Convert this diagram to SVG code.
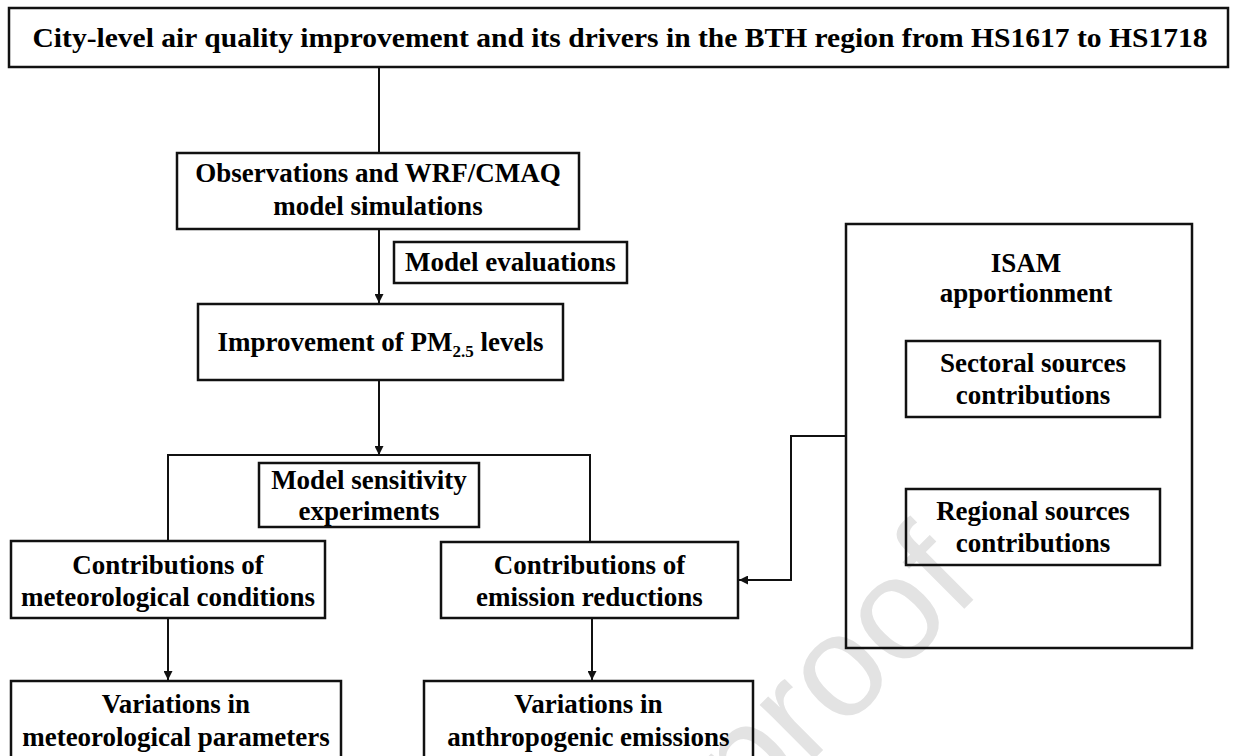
<svg xmlns="http://www.w3.org/2000/svg" width="1238" height="756" viewBox="0 0 1238 756">
  <style>
    .box { fill: none; stroke: #111; stroke-width: 2.5; }
    .t { font-family: "Liberation Serif", "Times New Roman", serif; font-weight: bold; font-size: 27px; fill: #000; text-anchor: middle; }
    .wire { fill: none; stroke: #111; stroke-width: 2; }
    .mark { font-family: "Liberation Sans", Arial, sans-serif; font-size: 145px; fill: #e3e3e3; }
  </style>
  <defs>
    <marker id="arrow" viewBox="0 0 10 10" refX="10" refY="5" markerWidth="9" markerHeight="9" markerUnits="userSpaceOnUse" orient="auto">
      <path d="M0,0 L10,5 L0,10 z" fill="#111"/>
    </marker>
  </defs>
  <rect width="1238" height="756" fill="#fff"/>

  <!-- background watermark -->
  <text class="mark" transform="translate(750,823) rotate(-45)">proof</text>

  <!-- connectors -->
  <g id="connectors">
    <line class="wire" x1="379" y1="67" x2="379" y2="153"/>
    <line class="wire" x1="379" y1="229" x2="379" y2="303" marker-end="url(#arrow)"/>
    <line class="wire" x1="379" y1="380" x2="379" y2="455" marker-end="url(#arrow)"/>
    <polyline class="wire" points="168,541 168,455 590,455 590,542"/>
    <line class="wire" x1="168" y1="618" x2="168" y2="680" marker-end="url(#arrow)"/>
    <line class="wire" x1="592" y1="618" x2="592" y2="680" marker-end="url(#arrow)"/>
    <polyline class="wire" points="846,436 791,436 791,580 739,580" marker-end="url(#arrow)"/>
  </g>

  <g id="title">
    <rect class="box" x="9" y="8" width="1219" height="59"/>
    <text class="t" x="620" y="47" textLength="1175" lengthAdjust="spacingAndGlyphs">City-level air quality improvement and its drivers in the BTH region from HS1617 to HS1718</text>
  </g>

  <g id="observations">
    <rect class="box" x="177" y="153" width="402" height="76"/>
    <text class="t" x="378" y="182">Observations and WRF/CMAQ</text>
    <text class="t" x="378" y="215">model simulations</text>
  </g>

  <g id="model-evaluations">
    <rect class="box" x="394" y="242" width="233" height="41"/>
    <text class="t" x="510.5" y="271">Model evaluations</text>
  </g>

  <g id="pm25">
    <rect class="box" x="198" y="304" width="365" height="76"/>
    <text class="t" x="380.5" y="351">Improvement of PM<tspan font-size="17" dy="6">2.5</tspan><tspan dy="-6"> levels</tspan></text>
  </g>

  <g id="sensitivity">
    <rect class="box" x="259" y="463" width="220" height="64"/>
    <text class="t" x="369" y="489">Model sensitivity</text>
    <text class="t" x="369" y="520">experiments</text>
  </g>

  <g id="meteorology">
    <rect class="box" x="11" y="541" width="314" height="77"/>
    <text class="t" x="168" y="574">Contributions of</text>
    <text class="t" x="168" y="606">meteorological conditions</text>
  </g>

  <g id="emissions">
    <rect class="box" x="441" y="542" width="297" height="76"/>
    <text class="t" x="589.5" y="574">Contributions of</text>
    <text class="t" x="589.5" y="606">emission reductions</text>
  </g>

  <g id="met-parameters">
    <rect class="box" x="11" y="681" width="330" height="90"/>
    <text class="t" x="176" y="713">Variations in</text>
    <text class="t" x="176" y="746">meteorological parameters</text>
  </g>

  <g id="anthropogenic">
    <rect class="box" x="424" y="681" width="329" height="90"/>
    <text class="t" x="588.5" y="713">Variations in</text>
    <text class="t" x="588.5" y="746">anthropogenic emissions</text>
  </g>

  <g id="isam">
    <rect class="box" x="846" y="224" width="346" height="424"/>
    <text class="t" x="1026" y="272">ISAM</text>
    <text class="t" x="1026" y="302">apportionment</text>
  </g>

  <g id="sectoral">
    <rect class="box" x="906" y="341" width="254" height="76"/>
    <text class="t" x="1033" y="372">Sectoral sources</text>
    <text class="t" x="1033" y="404">contributions</text>
  </g>

  <g id="regional">
    <rect class="box" x="906" y="489" width="254" height="76"/>
    <text class="t" x="1033" y="520">Regional sources</text>
    <text class="t" x="1033" y="552">contributions</text>
  </g>
</svg>
